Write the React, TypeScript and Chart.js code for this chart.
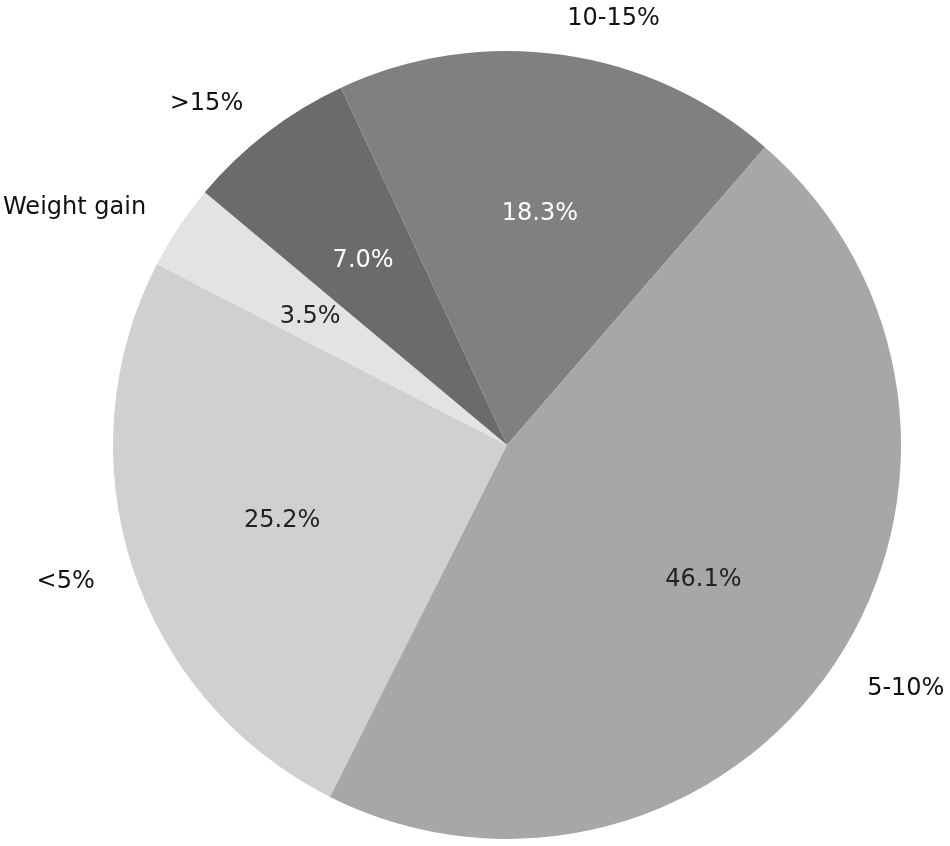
import React, { useEffect, useRef } from "react";
import { Chart, registerables } from "chart.js";

Chart.register(...registerables);

// Clockwise order starting from the <5% slice
const labels = ["<5%", "Weight gain", ">15%", "10-15%", "5-10%"];
const values = [25.2, 3.5, 7.0, 18.3, 46.1];
const pctLabels = ["25.2%", "3.5%", "7.0%", "18.3%", "46.1%"];
const colors = ["#d0d0d0", "#e3e3e3", "#6b6b6b", "#808080", "#a7a7a7"];
const pctColors = ["#222222", "#222222", "#ffffff", "#ffffff", "#222222"];

const FONT = "24px 'DejaVu Sans'";
const Y_SHIFT = 3;

const labelPlugin = {
  id: "pieLabels",
  afterDatasetsDraw(chart: any) {
    const ctx = chart.ctx;
    const meta = chart.getDatasetMeta(0);
    ctx.save();
    ctx.font = FONT;
    ctx.textBaseline = "middle";
    meta.data.forEach((arc: any, i: number) => {
      const { x, y, startAngle, endAngle, outerRadius } = arc.getProps(
        ["x", "y", "startAngle", "endAngle", "outerRadius"],
        true
      );
      const mid = (startAngle + endAngle) / 2;
      const c = Math.cos(mid);
      const s = Math.sin(mid);
      // outer label
      const lx = x + c * outerRadius * 1.1;
      const ly = y + s * outerRadius * 1.1 + Y_SHIFT;
      ctx.fillStyle = "#111111";
      ctx.textAlign = c >= 0 ? "left" : "right";
      ctx.fillText(labels[i], lx, ly);
      // percentage
      const px = x + c * outerRadius * 0.6;
      const py = y + s * outerRadius * 0.6 + Y_SHIFT;
      ctx.fillStyle = pctColors[i];
      ctx.textAlign = "center";
      ctx.fillText(pctLabels[i], px, py);
    });
    ctx.restore();
  },
};

export default function App() {
  const ref = useRef<HTMLCanvasElement | null>(null);
  useEffect(() => {
    if (!ref.current) return;
    const chart = new Chart(ref.current, {
      type: "pie",
      data: {
        labels,
        datasets: [
          {
            data: values,
            backgroundColor: colors,
            borderWidth: 0,
          },
        ],
      },
      options: {
        responsive: false,
        animation: false,
        rotation: -153.3,
        layout: { padding: { left: 113, right: 49, top: 51, bottom: 7 } },
        plugins: {
          legend: { display: false },
          tooltip: { enabled: false },
        },
      },
      plugins: [labelPlugin],
    });
    return () => chart.destroy();
  }, []);
  return (
    <div style={{ position: "absolute", left: 0, top: 0, width: 950, height: 846, background: "#fff" }}>
      <canvas ref={ref} width={950} height={846} style={{ display: "block" }} />
    </div>
  );
}
